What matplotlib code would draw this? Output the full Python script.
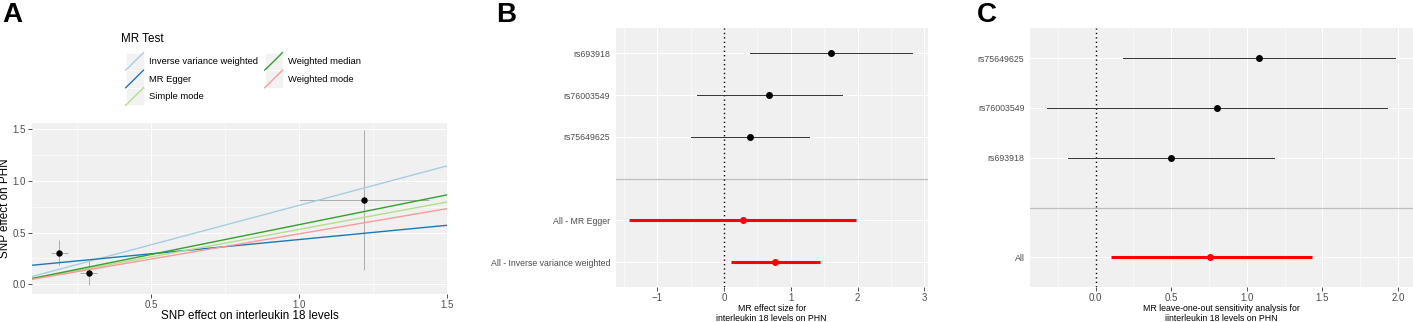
import numpy as np
import matplotlib
matplotlib.use("Agg")
import matplotlib.pyplot as plt
from matplotlib.lines import Line2D
from matplotlib.patches import Rectangle
from matplotlib.legend_handler import HandlerBase

plt.rcParams['font.family'] = ['Liberation Sans', 'DejaVu Sans']

W, H = 1413, 322
PANEL_BG = '#F0F0F0'
TICK_COL = '#4D4D4D'

# ---- panel A: scatter of SNP effects + MR fits ----
snp_x = [0.19, 0.29, 1.22]
snp_x_se = [0.028, 0.029, 0.22]
snp_y = [0.306, 0.112, 0.817]
snp_y_se = [0.118, 0.118, 0.675]

methods = ["Inverse variance weighted", "MR Egger", "Simple mode",
           "Weighted median", "Weighted mode"]
method_slope = [0.764, 0.276, 0.531, 0.577, 0.488]
method_icept = [0.0, 0.157, 0.0, 0.0, 0.0]
method_col = ['#a6cee3', '#1f78b4', '#b2df8a', '#33a02c', '#fb9a99']

# ---- panel B: forest plot ----
b_labels = ["rs693918", "rs76003549", "rs75649625", "",
            "All - MR Egger", "All - Inverse variance weighted"]
b_est = [1.60, 0.67, 0.39, np.nan, 0.28, 0.77]
b_lo = [0.39, -0.41, -0.49, np.nan, -1.42, 0.10]
b_hi = [2.82, 1.76, 1.27, np.nan, 1.98, 1.44]
b_summary = [False, False, False, False, True, True]

# ---- panel C: leave-one-out ----
c_labels = ["rs75649625", "rs76003549", "rs693918", "", "All"]
c_est = [1.08, 0.80, 0.50, np.nan, 0.76]
c_lo = [0.18, -0.32, -0.18, np.nan, 0.10]
c_hi = [1.98, 1.93, 1.18, np.nan, 1.43]
c_summary = [False, False, False, False, True]


class DiagHandler(HandlerBase):
    # ggplot-style abline legend key
    def create_artists(self, legend, orig_handle, xdescent, ydescent,
                       width, height, fontsize, trans):
        bg = Rectangle((-xdescent, -ydescent), width, height,
                       fc='#F2F2F2', ec='white', lw=0.5, transform=trans)
        ln = Line2D([-xdescent, -xdescent + width], [-ydescent, -ydescent + height],
                    color=orig_handle.get_color(), lw=1.0, transform=trans)
        return [bg, ln]


def px_axes(fig, l, t, r, b):
    return fig.add_axes([l / W, 1 - b / H, (r - l) / W, (b - t) / H])


def gg_style(ax):
    ax.set_facecolor(PANEL_BG)
    for s in ax.spines.values():
        s.set_visible(False)
    ax.set_axisbelow(True)
    ax.grid(which='major', color='white', lw=0.8)
    ax.grid(which='minor', color='white', lw=0.4)
    ax.tick_params(which='major', length=2.75, width=0.6, color='#333333',
                   labelcolor=TICK_COL, pad=1.5)
    ax.tick_params(which='minor', length=0)


def forest(ax, labels, est, lo, hi, summary, xlim, majors, minors, xlabel):
    gg_style(ax)
    n = len(labels)
    ypos = np.arange(n)
    ax.set_yticks(ypos)
    ax.set_yticklabels(labels)
    ax.set_ylim(n - 1 + 0.6, -0.6)
    ax.set_xlim(*xlim)
    ax.set_xticks(majors)
    ax.set_xticks(minors, minor=True)
    ax.grid(which='minor', axis='y', visible=False)
    ax.tick_params(axis='y', length=0, labelsize=6.3, pad=4)
    ax.tick_params(axis='x', labelsize=7.0)
    ax.axvline(0, color='black', lw=1.0, ls=(0, (1, 2.2)), zorder=2)
    for i in range(n):
        if labels[i] == "":
            ax.axhline(ypos[i], color='#BEBEBE', lw=0.9, zorder=1.5)
            continue
        if summary[i]:
            ax.plot([lo[i], hi[i]], [ypos[i], ypos[i]], color='red', lw=2.2, zorder=3,
                    solid_capstyle='butt')
            ax.plot(est[i], ypos[i], 'o', color='red', ms=4.0, zorder=4)
        else:
            ax.plot([lo[i], hi[i]], [ypos[i], ypos[i]], color='#333333', lw=0.7, zorder=3)
            ax.plot(est[i], ypos[i], 'o', color='black', ms=4.0, zorder=4)
    ax.set_xlabel(xlabel, fontsize=6.3, linespacing=1.12)
    ax.xaxis.set_label_coords(0.5, -0.064)


fig = plt.figure(figsize=(W / 100, H / 100), dpi=100)

# ---------------- A ----------------
axA = px_axes(fig, 32, 122.5, 447, 294)
gg_style(axA)
axA.set_xlim(0.098, 1.5)
axA.set_ylim(-0.094, 1.566)
axA.set_xticks([0.5, 1.0, 1.5])
axA.set_xticks([0.25, 0.75, 1.25], minor=True)
axA.set_yticks([0.0, 0.5, 1.0, 1.5])
axA.set_yticks([0.25, 0.75, 1.25], minor=True)
axA.tick_params(labelsize=7.0)

axA.errorbar(snp_x, snp_y, xerr=snp_x_se, yerr=snp_y_se, fmt='none',
             ecolor='#A0A0A0', elinewidth=0.6, zorder=2)
handles = []
for name, m, b0, col in zip(methods, method_slope, method_icept, method_col):
    axA.axline((0, b0), slope=m, color=col, lw=1.0, zorder=3)
    handles.append(Line2D([], [], color=col, label=name))
axA.plot(snp_x, snp_y, 'o', color='black', ms=3.6, zorder=4)

axA.set_xlabel("SNP effect on interleukin 18 levels", fontsize=8.4)
axA.xaxis.set_label_coords(0.525, -0.095)
axA.set_ylabel("SNP effect on PHN", fontsize=8.4)
axA.yaxis.set_label_coords(-0.051, 0.5)

fig.text(121 / W, 1 - 39 / H, "MR Test", fontsize=8.4, ha='left', va='center')
fig.legend(handles=handles, labels=methods, ncol=2, loc='upper left',
           bbox_to_anchor=(121 / W, 1 - 48 / H), frameon=False,
           fontsize=6.75, handler_map={Line2D: DiagHandler()},
           handlelength=1.9, handleheight=2.5, labelspacing=0,
           columnspacing=0.7, handletextpad=0.6, borderpad=0)

# ---------------- B ----------------
axB = px_axes(fig, 615.7, 28.3, 927.7, 287.3)
forest(axB, b_labels, b_est, b_lo, b_hi, b_summary, (-1.62, 3.05),
       [-1, 0, 1, 2, 3], [-1.5, -0.5, 0.5, 1.5, 2.5],
       "MR effect size for\ninterleukin 18 levels on PHN")

# ---------------- C ----------------
axC = px_axes(fig, 1030, 28.3, 1413, 287.3)
forest(axC, c_labels, c_est, c_lo, c_hi, c_summary, (-0.434, 2.10),
       [0.0, 0.5, 1.0, 1.5, 2.0], [-0.25, 0.25, 0.75, 1.25, 1.75],
       "MR leave-one-out sensitivity analysis for\niinterleukin 18 levels on PHN")
axC.set_xticklabels(["0.0", "0.5", "1.0", "1.5", "2.0"])

# panel letters
for letter, xp in [("A", 2), ("B", 496), ("C", 977)]:
    fig.text(xp / W, 1 - 2 / H, letter, fontsize=20, fontweight='bold',
             ha='left', va='top')

fig.savefig("out.png", dpi=100)
